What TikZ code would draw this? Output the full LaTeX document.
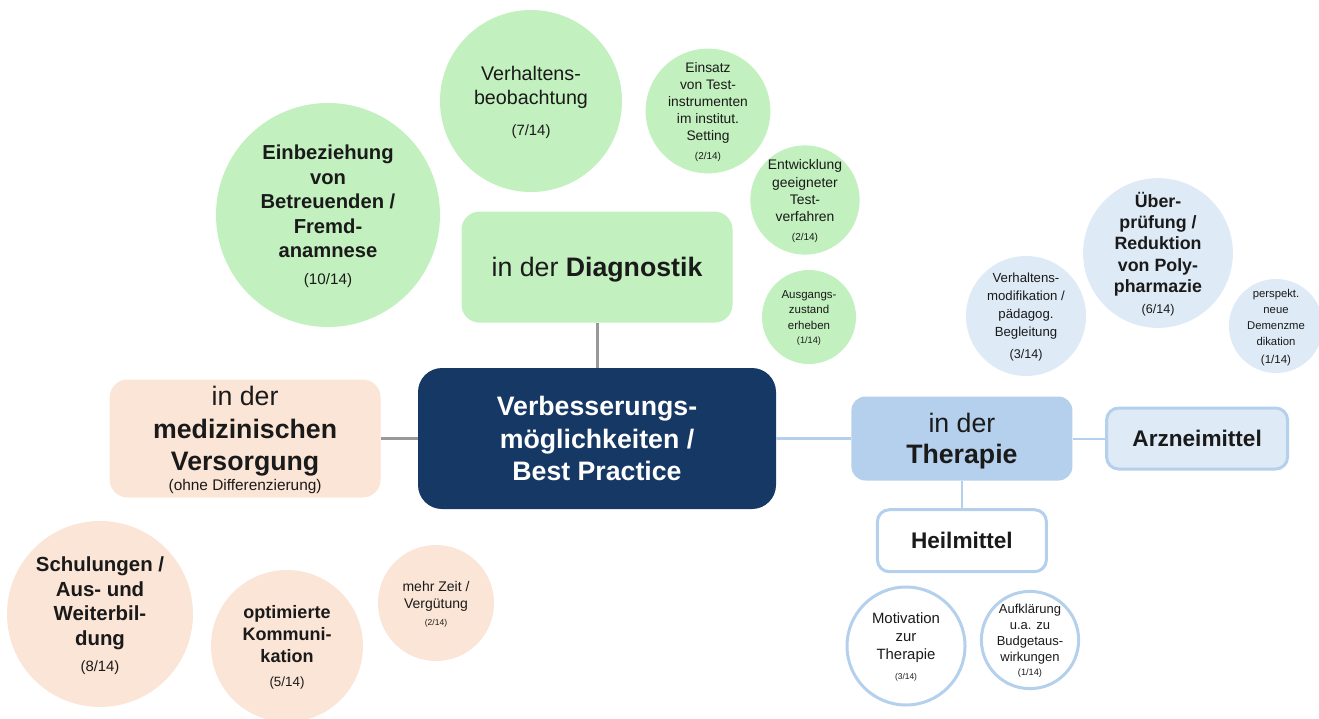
\documentclass[tikz,border=0pt]{standalone}
\usepackage{fontspec}
\setmainfont{Liberation Sans}
\usetikzlibrary{positioning}

\definecolor{navy}{RGB}{22,56,100}
\definecolor{diaggreen}{RGB}{194,240,190}
\definecolor{carepeach}{RGB}{251,229,214}
\definecolor{therablue}{RGB}{181,208,236}
\definecolor{paleblue}{RGB}{222,234,246}
\definecolor{linkgray}{RGB}{153,153,153}
\definecolor{inkblack}{RGB}{26,26,26}

\begin{document}
\begin{tikzpicture}[
    x=1pt, y=-1pt,
    hub/.style={
        rounded corners=18pt,
        inner sep=0pt,
        align=center,
        text depth=0pt,
        text=inkblack,
        font=\fontsize{26.7}{32.5}\selectfont
    },
    core/.style={hub, fill=navy, text=white, rounded corners=24pt,
        font=\bfseries\fontsize{26.7}{32.5}\selectfont},
    subbox/.style={
        draw=therablue,
        line width=3pt,
        rounded corners=12pt,
        align=center,
        text=inkblack,
        font=\bfseries\fontsize{22.6}{26}\selectfont
    },
    bubble/.style={circle, inner sep=0pt, align=center, text depth=0pt, text=inkblack},
    ring/.style={bubble, draw=therablue, line width=3pt, fill=white},
    link/.style={draw=linkgray, line width=3pt},
    sublink/.style={draw=therablue, line width=2pt}
]
    \useasboundingbox (0,0) rectangle (1319,718);

    % hub nodes
    \node[core, minimum width=358pt, minimum height=141pt] (best-practice) at (597,438.5)
        {Verbesserungs-\\möglichkeiten /\\Best Practice};
    \node[hub, fill=diaggreen, minimum width=271pt, minimum height=111pt,
        above=45pt of best-practice] (diagnostik) {in der \textbf{Diagnostik}};
    \node[hub, fill=carepeach, minimum width=271pt, minimum height=118pt,
        left=37pt of best-practice] (versorgung)
        {in der\\\textbf{medizinischen}\\\textbf{Versorgung}\\[-12.5pt]{\fontsize{15.4}{17}\selectfont (ohne Differenzierung)}};
    \node[hub, fill=therablue, minimum width=221pt, minimum height=84pt, rounded corners=14pt,
        right=75pt of best-practice] (therapie) {in der\\[-1.5pt]\textbf{Therapie}};
    \node[subbox, fill=paleblue, minimum width=181pt, minimum height=61pt,
        right=32.5pt of therapie] (arzneimittel) {Arzneimittel};
    \node[subbox, fill=white, minimum width=169pt, minimum height=62pt,
        below=27.5pt of therapie] (heilmittel) {Heilmittel};

    \draw[link] (diagnostik) -- (best-practice);
    \draw[link] (versorgung) -- (best-practice);
    \draw[sublink, line width=2.5pt] (best-practice) -- (therapie);
    \draw[sublink] (therapie) -- (arzneimittel);
    \draw[sublink] (therapie) -- (heilmittel);

    % Diagnostik
    \node[bubble, fill=diaggreen, minimum size=224pt, font=\bfseries\fontsize{20.2}{24.5}\selectfont]
        (fremdanamnese) at (328,215)
        {Einbeziehung\\von\\Betreuenden /\\Fremd-\\anamnese\\[2.2pt]{\mdseries\fontsize{15.2}{17}\selectfont (10/14)}};
    \node[bubble, fill=diaggreen, minimum size=182pt, font=\fontsize{19.7}{24}\selectfont]
        (beobachtung) at (531,101)
        {Verhaltens-\\beobachtung\\[7pt]{\fontsize{14.9}{17}\selectfont (7/14)}};
    \node[bubble, fill=diaggreen, minimum size=115pt, font=\fontsize{13.8}{17}\selectfont]
        (testinstrumente) at (708,111)
        {Einsatz\\von Test-\\instrumenten\\im institut.\\Setting\\[1.5pt]{\fontsize{10}{11}\selectfont (2/14)}};
    \node[bubble, fill=diaggreen, minimum size=108pt, font=\fontsize{13.9}{17.3}\selectfont]
        (testverfahren) at (805,200)
        {Entwicklung\\geeigneter\\Test-\\verfahren\\[1pt]{\fontsize{10}{11}\selectfont (2/14)}};
    \node[bubble, fill=diaggreen, minimum size=94pt, font=\fontsize{11.5}{15.5}\selectfont]
        (ausgangszustand) at (809,317)
        {Ausgangs-\\zustand\\erheben\\[-1.5pt]{\fontsize{9.2}{10}\selectfont (1/14)}};

    % Therapie
    \node[bubble, fill=paleblue, minimum size=120pt, font=\fontsize{13.2}{18}\selectfont]
        (verhaltensmodifikation) at (1026,316)
        {Verhaltens-\\modifikation /\\pädagog.\\Begleitung\\[4pt]{\fontsize{12.6}{14}\selectfont (3/14)}};
    \node[bubble, fill=paleblue, minimum size=147pt, font=\bfseries\fontsize{17.8}{21.3}\selectfont]
        (polypharmazie) at (1158,253)
        {Über-\\prüfung /\\Reduktion\\von Poly-\\pharmazie\\[0pt]{\mdseries\fontsize{12.6}{14}\selectfont (6/14)}};
    \node[bubble, fill=paleblue, minimum size=93pt, font=\fontsize{11.3}{16}\selectfont]
        (demenzmedikation) at (1276,326)
        {perspekt.\\neue\\Demenzme\\dikation\\[2pt]{\fontsize{11.5}{13}\selectfont (1/14)}};
    \node[ring, minimum size=118pt, font=\fontsize{14.9}{18}\selectfont]
        (motivation) at (906,646)
        {Motivation\\zur\\Therapie\\[2pt]{\fontsize{8.4}{10}\selectfont (3/14)}};
    \node[ring, minimum size=92pt, font=\fontsize{13}{16}\selectfont]
        (aufklaerung) at (1030,640)
        {Aufklärung\\u.a. zu\\Budgetaus-\\wirkungen\\[-2pt]{\fontsize{9.2}{10}\selectfont (1/14)}};

    % Versorgung
    \node[bubble, fill=carepeach, minimum size=186pt, font=\bfseries\fontsize{20.4}{24.5}\selectfont]
        (schulungen) at (100,614)
        {Schulungen /\\Aus- und\\Weiterbil-\\dung\\[1.5pt]{\mdseries\fontsize{14.9}{17}\selectfont (8/14)}};
    \node[bubble, fill=carepeach, minimum size=152pt, font=\bfseries\fontsize{18}{22}\selectfont]
        (kommunikation) at (287,646)
        {optimierte\\Kommuni-\\kation\\[2.5pt]{\mdseries\fontsize{13.4}{15}\selectfont (5/14)}};
    \node[bubble, fill=carepeach, minimum size=116pt, font=\fontsize{14}{17}\selectfont]
        (verguetung) at (436,603)
        {mehr Zeit /\\Vergütung\\[0pt]{\fontsize{8.5}{10}\selectfont (2/14)}};
\end{tikzpicture}
\end{document}
